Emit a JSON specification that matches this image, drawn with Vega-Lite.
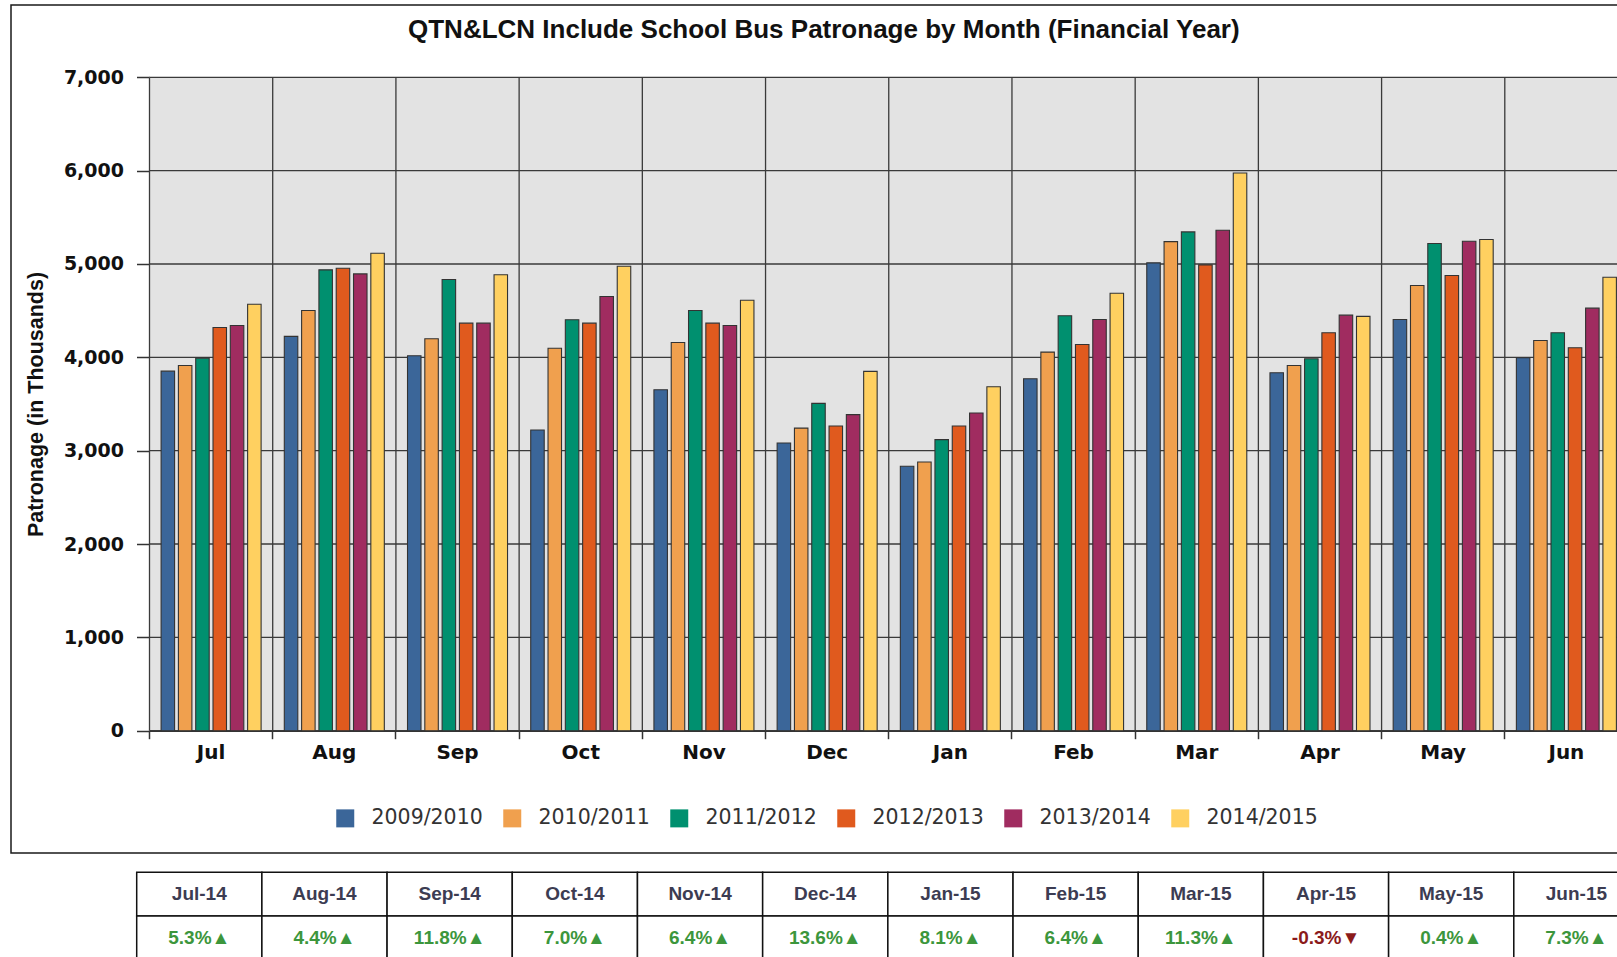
{
 "$schema": "https://vega.github.io/schema/vega-lite/v6.json",
 "autosize": {"type": "none"},
 "padding": {"left": 11, "top": 5, "right": -4, "bottom": 104},
 "width": 1610,
 "height": 848,
 "background": "white",
 "config": {"view": {"stroke": "#1a1a1a", "strokeWidth": 1.5, "fill": "white"}},
 "title": {"text": "QTN&LCN Include School Bus Patronage by Month (Financial Year)", "font": "Liberation Sans", "fontSize": 26, "fontWeight": "bold", "color": "#111111", "anchor": "start", "frame": "group", "offset": 0, "baseline": "alphabetic", "dy": 58.5, "dx": 397},
 "resolve": {"scale": {"x": "independent", "y": "independent", "color": "independent"}, "axis": {"x": "independent", "y": "independent"}},
 "layer": [
  {
   "data": {"values": [{"g": 0}, {"g": 1000}, {"g": 2000}, {"g": 3000}, {"g": 4000}, {"g": 5000}, {"g": 6000}, {"g": 7000}]},
   "layer": [
    {"mark": {"type": "rect", "color": "#e3e3e3"},
     "encoding": {
      "x": {"datum": 0, "type": "quantitative", "scale": {"domain": [0, 1], "range": [138.5, 1617], "nice": false, "zero": false}, "axis": null},
      "x2": {"datum": 1},
      "y": {"datum": 0, "type": "quantitative", "scale": {"domain": [0, 7000], "range": [725.7, 72.3], "nice": false}, "axis": null},
      "y2": {"datum": 7000}
     }},
    {"mark": {"type": "rule", "color": "#3a3a3a", "strokeWidth": 1.3},
     "encoding": {
      "x": {"datum": 0, "type": "quantitative"},
      "x2": {"datum": 1},
      "y": {"field": "g", "type": "quantitative"}
     }}
   ]
  },
  {
   "layer": [
    {"data": {"values": [{"m": "Jul"}, {"m": "Aug"}, {"m": "Sep"}, {"m": "Oct"}, {"m": "Nov"}, {"m": "Dec"}, {"m": "Jan"}, {"m": "Feb"}, {"m": "Mar"}, {"m": "Apr"}, {"m": "May"}, {"m": "Jun"}]},
     "mark": {"type": "rule", "color": "#3a3a3a", "strokeWidth": 1.3},
     "encoding": {
      "x": {"field": "m", "type": "nominal", "bandPosition": 0},
      "y": {"datum": 0, "type": "quantitative"},
      "y2": {"datum": 7000}
     }},
    {"data": {"values": [
      {"m": "Jul", "yr": "2009/2010", "v": 3852}, {"m": "Jul", "yr": "2010/2011", "v": 3913}, {"m": "Jul", "yr": "2011/2012", "v": 3991}, {"m": "Jul", "yr": "2012/2013", "v": 4320}, {"m": "Jul", "yr": "2013/2014", "v": 4341}, {"m": "Jul", "yr": "2014/2015", "v": 4569},
      {"m": "Aug", "yr": "2009/2010", "v": 4224}, {"m": "Aug", "yr": "2010/2011", "v": 4502}, {"m": "Aug", "yr": "2011/2012", "v": 4937}, {"m": "Aug", "yr": "2012/2013", "v": 4955}, {"m": "Aug", "yr": "2013/2014", "v": 4894}, {"m": "Aug", "yr": "2014/2015", "v": 5115},
      {"m": "Sep", "yr": "2009/2010", "v": 4017}, {"m": "Sep", "yr": "2010/2011", "v": 4199}, {"m": "Sep", "yr": "2011/2012", "v": 4834}, {"m": "Sep", "yr": "2012/2013", "v": 4366}, {"m": "Sep", "yr": "2013/2014", "v": 4366}, {"m": "Sep", "yr": "2014/2015", "v": 4885},
      {"m": "Oct", "yr": "2009/2010", "v": 3221}, {"m": "Oct", "yr": "2010/2011", "v": 4098}, {"m": "Oct", "yr": "2011/2012", "v": 4402}, {"m": "Oct", "yr": "2012/2013", "v": 4366}, {"m": "Oct", "yr": "2013/2014", "v": 4652}, {"m": "Oct", "yr": "2014/2015", "v": 4976},
      {"m": "Nov", "yr": "2009/2010", "v": 3653}, {"m": "Nov", "yr": "2010/2011", "v": 4159}, {"m": "Nov", "yr": "2011/2012", "v": 4502}, {"m": "Nov", "yr": "2012/2013", "v": 4366}, {"m": "Nov", "yr": "2013/2014", "v": 4341}, {"m": "Nov", "yr": "2014/2015", "v": 4612},
      {"m": "Dec", "yr": "2009/2010", "v": 3082}, {"m": "Dec", "yr": "2010/2011", "v": 3242}, {"m": "Dec", "yr": "2011/2012", "v": 3507}, {"m": "Dec", "yr": "2012/2013", "v": 3264}, {"m": "Dec", "yr": "2013/2014", "v": 3386}, {"m": "Dec", "yr": "2014/2015", "v": 3850},
      {"m": "Jan", "yr": "2009/2010", "v": 2833}, {"m": "Jan", "yr": "2010/2011", "v": 2879}, {"m": "Jan", "yr": "2011/2012", "v": 3118}, {"m": "Jan", "yr": "2012/2013", "v": 3264}, {"m": "Jan", "yr": "2013/2014", "v": 3403}, {"m": "Jan", "yr": "2014/2015", "v": 3685},
      {"m": "Feb", "yr": "2009/2010", "v": 3771}, {"m": "Feb", "yr": "2010/2011", "v": 4056}, {"m": "Feb", "yr": "2011/2012", "v": 4445}, {"m": "Feb", "yr": "2012/2013", "v": 4138}, {"m": "Feb", "yr": "2013/2014", "v": 4406}, {"m": "Feb", "yr": "2014/2015", "v": 4687},
      {"m": "Mar", "yr": "2009/2010", "v": 5012}, {"m": "Mar", "yr": "2010/2011", "v": 5240}, {"m": "Mar", "yr": "2011/2012", "v": 5344}, {"m": "Mar", "yr": "2012/2013", "v": 4991}, {"m": "Mar", "yr": "2013/2014", "v": 5361}, {"m": "Mar", "yr": "2014/2015", "v": 5975},
      {"m": "Apr", "yr": "2009/2010", "v": 3835}, {"m": "Apr", "yr": "2010/2011", "v": 3913}, {"m": "Apr", "yr": "2011/2012", "v": 3985}, {"m": "Apr", "yr": "2012/2013", "v": 4263}, {"m": "Apr", "yr": "2013/2014", "v": 4452}, {"m": "Apr", "yr": "2014/2015", "v": 4439},
      {"m": "May", "yr": "2009/2010", "v": 4406}, {"m": "May", "yr": "2010/2011", "v": 4769}, {"m": "May", "yr": "2011/2012", "v": 5219}, {"m": "May", "yr": "2012/2013", "v": 4876}, {"m": "May", "yr": "2013/2014", "v": 5243}, {"m": "May", "yr": "2014/2015", "v": 5262},
      {"m": "Jun", "yr": "2009/2010", "v": 3996}, {"m": "Jun", "yr": "2010/2011", "v": 4181}, {"m": "Jun", "yr": "2011/2012", "v": 4263}, {"m": "Jun", "yr": "2012/2013", "v": 4103}, {"m": "Jun", "yr": "2013/2014", "v": 4527}, {"m": "Jun", "yr": "2014/2015", "v": 4858}
     ]},
     "mark": {"type": "bar", "stroke": "#333333", "strokeWidth": 1.1},
     "encoding": {
      "x": {"field": "m", "type": "nominal", "sort": null,
            "scale": {"domain": ["Jul", "Aug", "Sep", "Oct", "Nov", "Dec", "Jan", "Feb", "Mar", "Apr", "May", "Jun"], "range": [138.5, 1617], "paddingInner": 0, "paddingOuter": 0},
            "axis": {"orient": "bottom", "offset": -122.3, "bandPosition": 0, "labelOffset": 0, "labelAlign": "center", "grid": false, "domain": true, "domainColor": "#333333", "domainWidth": 1.5, "ticks": true, "tickColor": "#333333", "tickWidth": 1.5, "tickSize": 8, "labelFont": "DejaVu Sans", "labelFontSize": 20, "labelFontWeight": "bold", "labelColor": "#111111", "labelPadding": 14, "labelAngle": 0, "labelFlush": false, "title": null}},
      "xOffset": {"field": "yr", "type": "nominal", "scale": {"domain": ["2009/2010", "2010/2011", "2011/2012", "2012/2013", "2013/2014", "2014/2015"], "paddingInner": 0.22, "paddingOuter": 0.67}},
      "y": {"field": "v", "type": "quantitative",
            "scale": {"domain": [0, 7000], "range": [725.7, 72.3], "nice": false},
            "axis": {"orient": "left", "offset": -138.5, "values": [0, 1000, 2000, 3000, 4000, 5000, 6000, 7000], "format": ",.0f", "grid": false, "domainColor": "#333333", "domainWidth": 1.5, "tickColor": "#333333", "tickWidth": 1.5, "tickSize": 13, "labelFont": "DejaVu Sans", "labelFontSize": 19, "labelFontWeight": "bold", "labelColor": "#111111", "labelPadding": 13, "title": "Patronage (in Thousands)", "titleFont": "Liberation Sans", "titleFontSize": 21.5, "titleFontWeight": "bold", "titleColor": "#111111", "titleAngle": 270, "titleX": -113.5, "titleY": 399, "titleAlign": "center", "titleBaseline": "middle"}},
      "color": {"field": "yr", "type": "nominal",
                "scale": {"domain": ["2009/2010", "2010/2011", "2011/2012", "2012/2013", "2013/2014", "2014/2015"], "range": ["#3b6699", "#f0a04e", "#00906f", "#e05a1e", "#a02c60", "#ffd060"]},
                "legend": {"orient": "none", "legendX": 324, "legendY": 803, "direction": "horizontal", "columns": 6, "title": null, "symbolType": "square", "symbolSize": 324, "symbolStrokeWidth": 0, "labelFont": "DejaVu Sans", "labelFontSize": 20.5, "labelColor": "#333333", "labelOffset": 16, "columnPadding": 19, "padding": 0}}
     }}
   ]
  },
  {
   "data": {"values": [
    {"col": "Jul-14", "row": "h", "label": "Jul-14", "kind": "header"}, {"col": "Jul-14", "row": "v", "label": "5.3%▲", "kind": "up"},
    {"col": "Aug-14", "row": "h", "label": "Aug-14", "kind": "header"}, {"col": "Aug-14", "row": "v", "label": "4.4%▲", "kind": "up"},
    {"col": "Sep-14", "row": "h", "label": "Sep-14", "kind": "header"}, {"col": "Sep-14", "row": "v", "label": "11.8%▲", "kind": "up"},
    {"col": "Oct-14", "row": "h", "label": "Oct-14", "kind": "header"}, {"col": "Oct-14", "row": "v", "label": "7.0%▲", "kind": "up"},
    {"col": "Nov-14", "row": "h", "label": "Nov-14", "kind": "header"}, {"col": "Nov-14", "row": "v", "label": "6.4%▲", "kind": "up"},
    {"col": "Dec-14", "row": "h", "label": "Dec-14", "kind": "header"}, {"col": "Dec-14", "row": "v", "label": "13.6%▲", "kind": "up"},
    {"col": "Jan-15", "row": "h", "label": "Jan-15", "kind": "header"}, {"col": "Jan-15", "row": "v", "label": "8.1%▲", "kind": "up"},
    {"col": "Feb-15", "row": "h", "label": "Feb-15", "kind": "header"}, {"col": "Feb-15", "row": "v", "label": "6.4%▲", "kind": "up"},
    {"col": "Mar-15", "row": "h", "label": "Mar-15", "kind": "header"}, {"col": "Mar-15", "row": "v", "label": "11.3%▲", "kind": "up"},
    {"col": "Apr-15", "row": "h", "label": "Apr-15", "kind": "header"}, {"col": "Apr-15", "row": "v", "label": "-0.3%▼", "kind": "down"},
    {"col": "May-15", "row": "h", "label": "May-15", "kind": "header"}, {"col": "May-15", "row": "v", "label": "0.4%▲", "kind": "up"},
    {"col": "Jun-15", "row": "h", "label": "Jun-15", "kind": "header"}, {"col": "Jun-15", "row": "v", "label": "7.3%▲", "kind": "up"}
   ]},
   "layer": [
    {"mark": {"type": "rect", "fill": "white", "stroke": "#111111", "strokeWidth": 1.5},
     "encoding": {
      "x": {"field": "col", "type": "nominal", "scale": {"domain": ["Jul-14", "Aug-14", "Sep-14", "Oct-14", "Nov-14", "Dec-14", "Jan-15", "Feb-15", "Mar-15", "Apr-15", "May-15", "Jun-15"], "range": [125.7, 1628], "paddingInner": 0, "paddingOuter": 0}, "axis": null},
      "y": {"field": "row", "type": "nominal", "scale": {"domain": ["h", "v"], "range": [867.3, 954.7], "paddingInner": 0, "paddingOuter": 0}, "axis": null}
     }},
    {"mark": {"type": "text", "font": "Liberation Sans", "fontSize": 19, "fontWeight": "bold", "baseline": "middle", "align": "center"},
     "encoding": {
      "x": {"field": "col", "type": "nominal"},
      "y": {"field": "row", "type": "nominal"},
      "text": {"field": "label"},
      "color": {"field": "kind", "type": "nominal", "scale": {"domain": ["header", "up", "down"], "range": ["#3c3c52", "#3c963c", "#8b1a1a"]}, "legend": null}
     }}
   ]
  }
 ]
}
